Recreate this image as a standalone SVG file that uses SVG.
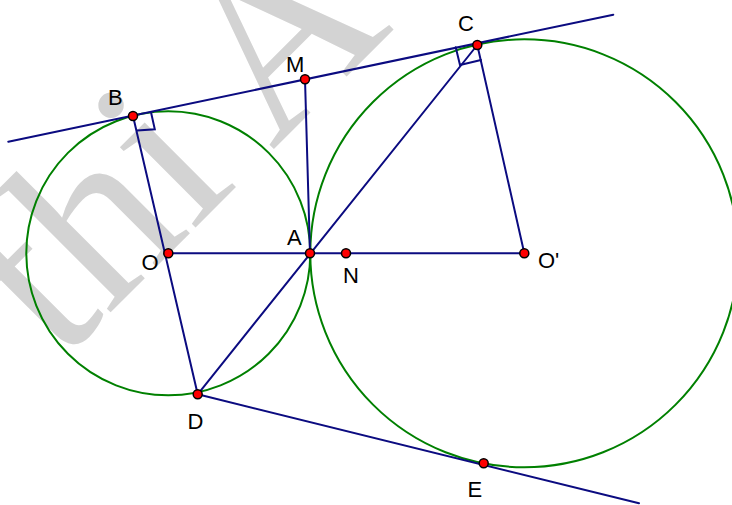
<svg xmlns="http://www.w3.org/2000/svg" width="732" height="505" viewBox="0 0 732 505">
<style>
.wm{font-family:"Liberation Serif","Times New Roman",serif;fill:#d3d3d3}
.ln{stroke:#0b0b80;stroke-width:2;fill:none;stroke-linecap:round}
.cir{stroke:#008000;stroke-width:2;fill:none}
.pt{fill:#ff0000;stroke:#000;stroke-width:1.5}
.lb{font-family:"Liberation Sans",Arial,sans-serif;font-size:22px;fill:#000}
</style>
<rect width="732" height="505" fill="#fff"/>
<text class="wm" font-size="240" transform="translate(60,363) rotate(-45)">thi A</text>
<g id="circles">
<circle id="circleO" class="cir" cx="168.3" cy="253.3" r="142"/>
<circle id="circleO2" class="cir" cx="524.3" cy="253.3" r="214"/>
</g>
<g id="connectors">
<line class="ln" x1="8.3" y1="141.7" x2="613.3" y2="14.7"/>
<line class="ln" x1="133" y1="116" x2="197.7" y2="394.3"/>
<line class="ln" x1="168.3" y1="253.3" x2="524.3" y2="253.3"/>
<line class="ln" x1="305" y1="79.3" x2="310" y2="253.3"/>
<line class="ln" x1="477.3" y1="45" x2="197.7" y2="394.3"/>
<line class="ln" x1="477.3" y1="45" x2="524.3" y2="253.3"/>
<line class="ln" x1="197.7" y1="394.3" x2="639" y2="503.3"/>
<polyline class="ln" points="151,112.3 154.8,129.3 137.2,130.5"/>
<polyline class="ln" points="455.7,47.3 460,65 481,60"/>
</g>
<g id="node-B"><circle class="pt" cx="133" cy="116" r="4.5"/><text class="lb" x="108" y="105">B</text></g>
<g id="node-M"><circle class="pt" cx="305" cy="79.3" r="4.5"/><text class="lb" x="286" y="71.5">M</text></g>
<g id="node-C"><circle class="pt" cx="477.3" cy="45" r="4.5"/><text class="lb" x="458" y="30.5">C</text></g>
<g id="node-A"><circle class="pt" cx="310" cy="253.3" r="4.5"/><text class="lb" x="287" y="245">A</text></g>
<g id="node-O"><circle class="pt" cx="168.3" cy="253.3" r="4.5"/><text class="lb" x="141.5" y="270">O</text></g>
<g id="node-N"><circle class="pt" cx="346" cy="253.3" r="4.5"/><text class="lb" x="343" y="282.5">N</text></g>
<g id="node-O2"><circle class="pt" cx="524.3" cy="253.3" r="4.5"/><text class="lb" x="538" y="268">O'</text></g>
<g id="node-D"><circle class="pt" cx="197.7" cy="394.3" r="4.5"/><text class="lb" x="187.5" y="429">D</text></g>
<g id="node-E"><circle class="pt" cx="483.7" cy="463.3" r="4.5"/><text class="lb" x="467.5" y="496.5">E</text></g>
</svg>
